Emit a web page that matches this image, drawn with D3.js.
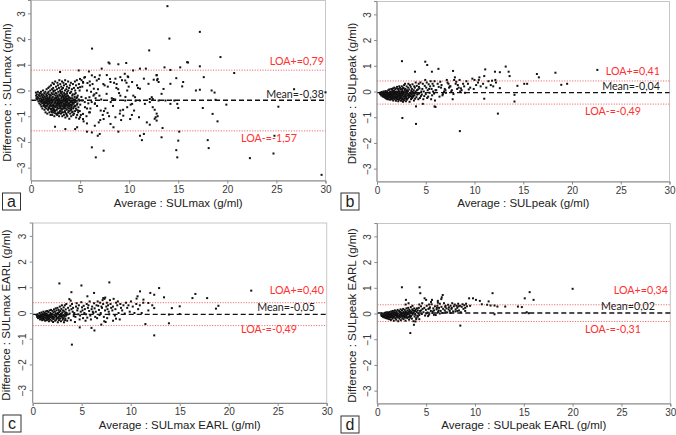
<!DOCTYPE html>
<html><head><meta charset="utf-8">
<script src="https://cdn.jsdelivr.net/npm/d3@7"></script>
<style>body{margin:0;background:#fff}svg{display:block}</style>
</head><body>
<svg id="c" width="676" height="435"></svg>
<script>
// ---------- data ----------
const xTicks = [0, 5, 10, 15, 20, 25, 30];
const yTicks = [-3, -2, -1, 0, 1, 2, 3];
const panelLetters = ["a", "b", "c", "d"];
const xTitles = ["Average : SULmax (g/ml)", "Average : SULpeak (g/ml)", "Average : SULmax EARL (g/ml)", "Average : SULpeak EARL (g/ml)"];
const yTitles = ["Difference : SULmax  (g/ml)", "Difference : SULpeak  (g/ml)", "Difference : SULmax EARL (g/ml)", "Difference : SULpeak EARL (g/ml)"];
const meanValues = [-0.38, -0.04, -0.05, 0.02];
const loaUpper = [0.79, 0.41, 0.40, 0.34];
const loaLower = [-1.57, -0.49, -0.49, -0.31];
const meanLabels = ["Mean=-0,38", "Mean=-0,04", "Mean=-0,05", "Mean=0,02"];
const upperLabels = ["LOA+=0,79", "LOA+=0,41", "LOA+=0,40", "LOA+=0,34"];
const lowerLabels = ["LOA-=-1,57", "LOA-=-0,49", "LOA-=-0,49", "LOA-=-0,31"];

const pointsA = [
[0.5,-0.08],[0.52,-0.2],[0.55,-0.3],[0.6,-0.15],[0.62,-0.35],[0.65,-0.25],[0.7,-0.05],[0.72,-0.28],[0.75,-0.42],
[0.8,-0.18],[0.82,-0.32],[0.85,-0.5],[0.87,-0.1],[0.9,-0.22],[0.92,-0.4],[0.95,-0.12],[0.97,-0.55],
[1.0,-0.3],[1.02,-0.05],[1.04,-0.45],[1.06,-0.62],[1.08,-0.2],[1.1,-0.35],[1.12,-0.15],[1.14,-0.5],[1.16,-0.7],[1.18,-0.25],
[1.2,-0.4],[1.22,0.0],[1.24,-0.28],[1.26,-0.6],[1.28,-0.48],[1.29,-0.18],[1.3,-0.33],[1.33,-0.55],[1.35,-0.1],[1.37,-0.75],[1.39,-0.42],
[1.4,-0.25],[1.42,-0.45],[1.44,-0.65],[1.46,-0.05],[1.48,-0.85],[1.49,-0.35],[1.5,-0.5],[1.52,-0.3],[1.54,-0.15],[1.56,-0.7],[1.58,-0.4],[1.59,0.05],
[1.6,-0.38],[1.62,-0.6],[1.64,-0.2],[1.66,-0.9],[1.68,-0.48],[1.69,-0.1],[1.7,-0.28],[1.72,-0.55],[1.74,-0.75],[1.76,0.1],[1.78,-0.42],[1.79,-0.05],
[1.8,-0.35],[1.82,-0.15],[1.84,-0.65],[1.85,-0.5],[1.87,-0.85],[1.88,0.15],[1.89,-0.25],[1.9,-0.45],[1.92,-0.3],[1.94,-0.7],[1.96,0.0],[1.97,-0.55],[1.99,-0.95],
[2.0,-0.4],[2.02,-0.2],[2.04,0.2],[2.05,-0.6],[2.07,-0.8],[2.08,-0.35],[2.09,-0.1],[2.1,-0.5],[2.12,-0.3],[2.13,0.05],[2.15,-0.7],[2.16,-0.95],[2.18,-0.15],[2.19,0.3],
[2.2,-0.45],[2.22,-0.25],[2.23,-0.65],[2.25,-0.85],[2.26,0.1],[2.28,-0.55],[2.29,-0.05],[2.3,-0.38],[2.32,-0.6],[2.33,0.25],[2.35,-0.15],[2.36,-0.75],[2.38,-1.0],[2.39,-0.5],
[2.4,-0.3],[2.42,-0.5],[2.43,-0.8],[2.45,0.0],[2.46,0.35],[2.48,-0.65],[2.49,-0.2],[2.5,-0.42],[2.52,-0.62],[2.53,-0.1],[2.55,0.15],[2.56,-0.9],[2.58,-0.28],
[2.6,-0.55],[2.62,-0.35],[2.63,-0.75],[2.65,0.05],[2.66,-0.95],[2.68,-0.2],[2.69,0.3],[2.7,-0.45],[2.72,-0.25],[2.73,-0.6],[2.75,0.2],[2.76,-0.85],[2.78,-0.05],[2.79,-0.4],
[2.8,-0.5],[2.82,-0.3],[2.83,-0.7],[2.85,0.1],[2.86,-1.0],[2.88,-0.15],[2.89,0.4],[2.9,-0.55],[2.92,-0.35],[2.93,-0.6],[2.95,-0.8],[2.96,0.0],[2.98,0.25],[2.99,-0.45],[3.0,-0.2],
[3.02,-0.4],[3.03,-0.65],[3.05,-0.9],[3.06,-0.1],[3.08,0.15],[3.09,-0.3],[3.1,-0.55],[3.12,-0.5],[3.13,-0.25],[3.15,-0.75],[3.16,0.35],[3.18,-0.05],[3.19,-1.0],[3.2,-0.6],
[3.22,-0.45],[3.23,-0.2],[3.25,-0.7],[3.26,0.1],[3.28,-0.85],[3.29,-0.35],[3.3,0.3],[3.32,-0.55],[3.33,-0.3],[3.35,-0.95],[3.36,0.2],[3.38,-0.1],[3.39,-0.65],[3.4,-0.4],
[3.42,-0.4],[3.43,-0.6],[3.45,-0.8],[3.46,0.0],[3.48,0.4],[3.49,-0.25],[3.5,-1.05],[3.52,-0.5],[3.53,-0.15],[3.55,-0.7],[3.56,0.25],[3.58,-0.9],[3.59,-0.35],[3.6,0.05],
[3.62,-0.3],[3.63,-0.55],[3.65,-0.75],[3.66,0.15],[3.68,-0.45],[3.69,-0.05],[3.7,-1.0],[3.72,-0.4],[3.74,-0.65],[3.76,-0.2],[3.78,0.35],[3.79,-0.85],[3.8,0.0],
[3.82,-0.5],[3.84,-0.25],[3.86,-0.8],[3.88,0.1],[3.89,-0.6],[3.9,-1.1],[3.92,-0.35],[3.94,-0.7],[3.96,0.2],[3.98,-0.1],[3.99,-0.9],[4.0,-0.45],
[4.02,-0.55],[4.04,-0.3],[4.06,0.3],[4.08,-0.75],[4.09,-0.05],[4.1,-1.0],[4.13,-0.4],[4.15,-0.6],[4.17,0.05],[4.19,-0.85],[4.2,-0.2],
[4.23,-0.5],[4.25,-0.15],[4.27,0.25],[4.29,-0.7],[4.3,-0.95],[4.33,-0.35],[4.35,-0.65],[4.37,0.1],[4.39,-0.9],[4.4,-0.45],
[4.43,-0.6],[4.45,-0.25],[4.47,0.35],[4.49,-0.8],[4.5,0.0],[4.53,-0.45],[4.55,-0.1],[4.57,-0.7],[4.59,0.2],[4.6,-1.05],
[4.63,-0.3],[4.65,-0.75],[4.67,0.4],[4.69,-0.55],[4.7,-0.95],[4.73,-0.5],[4.76,-0.2],[4.78,0.1],[4.8,-0.85],
[4.83,-0.65],[4.86,-0.35],[4.88,0.25],[4.9,-1.1],[4.93,-0.4],[4.95,0.0],[4.97,-0.8],[4.99,0.45],
[1.13,-0.42],[1.57,-0.22],[2.34,-0.35],[2.77,-0.52],[3.11,-0.38],[3.57,-0.58],[3.93,-0.28],[4.31,-0.52],[1.83,-0.38],[2.61,-0.12],[3.27,-0.62],[2.14,-0.58],
[2.94,-0.68],[3.71,-0.48],[4.11,-0.68],[1.67,-0.52],[2.47,-0.45],[3.44,-0.32],[2.03,-0.72],[3.84,-0.55],[2.86,-0.88],[3.17,-0.85],[2.57,-0.32],[3.64,-0.95],
[4.44,-0.15],[1.41,-0.58],[2.21,-0.38],[3.01,-0.05],[3.52,-0.62],[4.24,-0.82],[1.95,-0.18],[2.68,-0.68],[3.35,-0.5],[4.06,-0.4],[1.27,-0.38],[2.43,-0.88],
[3.06,-0.48],[3.76,-0.32],[4.52,-0.6],[2.11,-0.85],[2.89,-0.2],[3.48,-0.85],[4.21,-0.3],[1.73,-0.33],[2.51,-0.78],[3.23,-0.4],[3.96,-0.62],[4.67,-0.4],
[2.27,0.0],[3.14,0.05],[3.67,-0.12],[4.14,-0.55],[1.61,-0.45],[2.79,-0.35],[3.38,-0.7],[2.06,-0.48],[2.99,-0.6],[3.58,-0.4],[4.35,-0.48],[1.49,-0.62],
[2.31,-0.72],[3.19,-0.15],[3.88,-0.38],[2.64,-0.5],[3.41,-0.18],[1.91,-0.6],[2.71,-0.9],[3.53,-0.45],[4.01,-0.78],[2.17,-0.4],[2.92,-0.5],[3.81,-0.7],
[1.35,-0.48],[2.58,-0.58],[3.29,-0.25],[4.47,-0.35],[2.37,-0.62],[3.09,-0.72],[3.74,-0.58],[2.83,-0.45],[3.62,-0.22],[4.18,-0.45],[1.78,-0.68],[2.53,-0.28],
[3.47,-0.55],[2.24,-0.78],[3.02,-0.82],[3.91,-0.5],
[5.02,-0.55],[5.13,-0.25],[5.31,0.3],[5.08,-0.95],[5.47,-0.45],[5.22,0.15],[5.71,-0.7],[5.36,-1.2],[5.58,-0.3],[5.92,-0.85],[5.15,0.4],[6.12,-0.05],
[5.84,-0.5],[6.27,0.25],[5.65,-1.0],[6.45,-0.15],[6.05,-0.7],[6.58,-0.3],[5.42,0.5],[6.82,0.05],[6.18,-0.45],[6.73,-0.6],[5.98,0.35],[7.05,-1.15],
[6.36,-0.2],[7.43,-0.8],[6.91,0.45],[7.15,-0.35],[6.52,-0.5],[7.82,0.15],[7.31,-0.95],[6.66,-0.1],[8.23,-0.3],[7.58,-0.7],[8.46,0.3],[7.72,0.6],
[8.12,-0.45],[8.88,0.05],[7.95,-1.0],[9.27,0.4],[8.35,-0.6],[9.62,-0.25],[8.72,0.25],[9.05,-0.9],[8.58,-0.35],[9.85,0.55],[9.38,-0.75],[8.97,-0.1],
[10.15,-0.55],[9.73,0.3],[10.42,-0.2],[9.18,-1.15],[10.65,-0.4],[9.95,0.15],[10.28,-0.95],[9.55,0.65],[10.9,0.1],[8.05,0.45],[7.37,0.25],[6.97,-0.2],
[6.7,0.39],[7.0,0.59],[7.5,0.2],[8.1,0.33],[8.6,0.46],[9.1,0.52],[9.6,0.39],[9.9,0.52],[10.3,0.33],[10.8,0.2],[11.1,0.07],[11.5,0.46],[11.97,0.26],[12.5,0.42],[12.8,0.59],
[9.8,0],[8.7,0.1],[7.7,-0.13],[8.4,-0.33],[9.1,-0.2],[9.6,-0.39],[10.3,-0.52],[10.6,-0.26],[11.1,-0.39],[11.6,-0.52],[12.1,-0.33],[12.4,-0.65],[10.5,-0.78],[9.8,-0.65],[9.1,-0.78],
[5.7,0],[6.0,0.2],[6.4,0.07],[5.95,-0.26],[6.5,-0.52],[5.5,-0.65],[6.0,-0.85],[5.2,-0.39],[5.3,-0.91],[4.8,-0.78],[5.0,-1.04],[4.5,-0.59],[4.7,-0.26],[5.0,0.13],[5.3,0.33],[5.5,0.52],[5.75,0.29],[6.2,0.59],[6.5,0.52],
[6.2,-2.21],[6.6,-2.6],[7.4,-2.34],[6.2,-1.63],[5.7,-1.6],[6.8,-1.76],[7.0,-1.69],[4.7,-1.43],[4.5,-1.5],[8.4,-1.43],[8.9,-1.6],[2.45,-1.41],[3.5,-1.5],
[11.1,-1.76],[11.3,-1.93],[11.5,-1.69],[11.8,-1.24],[12.1,-1.33],[12.7,-1.04],[12.8,-1.17],[11.0,-1.04],[10.1,-1.11],[9.4,-0.98],[8.6,-1.04],[7.8,-0.87],[7.4,-1.11],[6.9,-1.24],[6.5,-1.37],[5.7,-1.28],[5.3,-1.11],[8.1,-1.3],[7.1,-0.78],
[4.86,0.78],[5.9,0.74],[6.22,1.63],[7.2,0.85],[7.9,1.09],[8.0,1.05],[8.9,1.02],[9.7,1.07],[10.4,0.78],[11.1,0.85],[11.7,0.85],[2.96,0.72],
[13.9,3.28],[14.1,2.02],[17.2,2.28],[12.04,1.56],[19.3,1.30],[16.0,1.09],[15.9,1.1],[17.2,0.94],[13.6,0.9],[14.2,0.8],[15.2,0.9],[20.7,0.68],[17.6,0.52],
[12.8,0.6],[12.9,0.45],[13.0,0.33],[12.85,0.4],[15.5,0.33],[15.4,0.16],[14.8,0.48],[13.5,0.06],[13.3,-0.13],[14.2,0.26],[16.8,0.0],[17.2,0.03],[18.4,0.0],[18.7,-0.08],
[12.3,-0.26],[12.4,-0.33],[13.0,-0.39],[13.7,-0.39],[14.2,-0.52],[14.6,-0.39],[14.9,-0.52],[15.0,-0.68],[12.1,-0.45],[12.6,-0.75],[12.9,-1.0],[12.6,-1.1],[12.8,-0.9],
[18.8,-0.36],[19.9,-0.55],[25.2,-0.63],[30.0,-0.07],[26.8,0.05],[17.5,-0.68],[18.5,-0.91],[19.0,-1.2],[13.4,-1.46],[15.1,-1.6],[13.3,-1.82],[15.0,-1.95],[18.0,-1.93],[18.1,-2.24],
[14.8,-2.32],[14.9,-2.6],[22.3,-2.63],[24.7,-2.45],[24.8,-1.76],[29.6,-3.28]
];

const pointsB = [
[0.3,-0.05],[0.33,-0.1],[0.4,-0.08],[0.43,-0.15],[0.46,-0.02],[0.5,-0.12],[0.53,-0.05],[0.56,-0.18],[0.6,-0.1],[0.63,-0.2],[0.66,0.0],[0.7,-0.15],[0.72,-0.05],[0.75,-0.22],[0.77,-0.1],
[0.8,-0.08],[0.82,-0.18],[0.85,-0.25],[0.87,0.02],[0.9,-0.12],[0.92,-0.2],[0.95,-0.04],[0.97,-0.28],[1.0,-0.1],[1.02,-0.22],[1.04,0.0],[1.06,-0.15],[1.08,-0.3],
[1.1,-0.05],[1.12,-0.18],[1.14,-0.25],[1.16,0.05],[1.18,-0.12],[1.2,-0.14],[1.22,-0.3],[1.24,-0.08],[1.26,0.08],[1.28,-0.2],[1.3,-0.1],[1.32,-0.22],[1.34,0.0],[1.36,-0.32],[1.38,-0.16],
[1.4,-0.06],[1.42,-0.18],[1.44,-0.26],[1.46,0.1],[1.48,-0.12],[1.5,-0.14],[1.52,-0.3],[1.54,-0.02],[1.56,0.06],[1.58,-0.22],[1.6,-0.1],[1.62,-0.2],[1.64,0.12],[1.66,-0.35],[1.68,-0.04],
[1.7,-0.16],[1.72,-0.26],[1.74,0.02],[1.76,-0.08],[1.78,0.15],[1.8,-0.12],[1.82,-0.3],[1.84,-0.2],[1.86,0.08],[1.88,-0.02],[1.9,-0.06],[1.92,-0.18],[1.94,-0.36],[1.96,0.12],[1.98,-0.24],
[2.0,-0.1],[2.02,-0.22],[2.04,0.0],[2.06,0.18],[2.08,-0.3],[2.09,-0.15],[2.1,-0.14],[2.12,-0.04],[2.14,-0.26],[2.16,0.1],[2.18,-0.38],[2.2,-0.08],[2.22,-0.2],[2.24,0.05],[2.26,-0.32],[2.28,0.2],
[2.3,-0.16],[2.32,-0.02],[2.34,-0.28],[2.36,0.14],[2.38,-0.1],[2.4,-0.12],[2.42,-0.24],[2.44,0.08],[2.46,-0.36],[2.48,0.0],[2.5,-0.06],[2.52,-0.18],[2.54,0.2],[2.56,-0.3],[2.58,0.1],
[2.6,-0.14],[2.62,0.02],[2.64,-0.26],[2.66,-0.4],[2.68,0.15],[2.7,-0.1],[2.72,-0.2],[2.74,0.12],[2.76,-0.34],[2.78,0.25],[2.8,-0.04],[2.82,-0.16],[2.84,-0.28],[2.86,0.06],[2.88,0.3],
[2.9,-0.12],[2.92,0.1],[2.94,-0.22],[2.96,-0.38],[2.98,0.0],[3.0,-0.08],[3.02,-0.2],[3.04,0.2],[3.06,-0.32],[3.08,0.05],[3.1,-0.15],[3.13,0.0],[3.16,-0.27],[3.19,0.15],[3.22,0.3],
[3.25,-0.1],[3.28,-0.22],[3.31,0.08],[3.34,-0.4],[3.37,0.25],[3.4,-0.05],[3.43,-0.18],[3.46,0.18],[3.49,-0.3],[3.52,0.02],[3.55,-0.12],[3.58,0.1],[3.61,-0.25],[3.64,0.28],[3.67,-0.02],
[3.7,-0.08],[3.73,-0.2],[3.76,0.05],[3.79,-0.35],[3.82,0.2],[3.85,-0.14],[3.88,0.15],[3.91,-0.28],[3.94,0.0],[3.97,0.35],[4.0,-0.04],[4.04,-0.22],[4.08,0.22],[4.12,-0.12],[4.16,-0.1],
[4.2,0.08],[4.24,-0.3],[4.28,0.3],[4.32,-0.08],[4.36,0.12],[4.4,-0.25],[4.45,0.35],[4.5,-0.18],[4.55,0.0],[4.6,-0.12],[4.65,0.1],[4.7,0.3],[4.75,-0.3],[4.8,0.0],[4.85,-0.18],[4.9,0.22],
[4.95,0.45],[5.0,-0.1],[5.05,0.15],[5.1,0.35],[5.15,-0.25],[5.2,0.05],[5.25,-0.2],[5.3,0.28],[5.35,0.1],[5.4,-0.05],[5.45,0.2],[5.5,0.4],[5.55,-0.3],[5.6,0.1],[5.65,-0.15],[5.7,0.3],
[5.75,0.0],[5.8,0.22],[5.85,-0.08],[5.9,0.4],[5.95,-0.35],[6.0,0.05],
[0.68,-0.12],[0.94,-0.16],[1.19,-0.2],[1.43,-0.1],[1.67,-0.14],[1.91,-0.1],[2.13,-0.18],[2.37,-0.22],[2.61,-0.08],[2.87,-0.2],[3.11,-0.06],[3.36,-0.14],
[0.81,-0.04],[1.07,-0.26],[1.31,-0.06],[1.55,-0.24],[1.79,-0.04],[2.03,-0.28],[2.27,-0.1],[2.51,-0.26],[2.75,-0.02],[2.99,-0.28],[3.23,-0.16],[3.47,-0.08],
[3.71,-0.16],[0.55,-0.1],[1.13,-0.08],[1.61,-0.28],[2.19,-0.02],[2.69,-0.32],[3.17,0.02],[3.59,-0.2],[3.89,-0.06],[1.37,-0.2],[1.85,-0.24],[2.45,-0.16],
[2.93,-0.12],[3.53,-0.26],[4.1,0.05],[4.3,0.18],
[6.08,0.05],[6.22,0.3],[6.41,-0.2],[6.57,0.15],[6.33,0.18],[6.76,-0.1],[6.49,0.38],[6.88,0.0],[6.62,0.25],[7.02,0.05],[6.71,-0.15],[7.16,0.45],
[6.95,0.1],[7.33,0.3],[7.08,-0.05],[7.47,0.2],[7.23,0.35],[7.61,0.0],[7.39,0.15],[7.76,-0.3],[7.53,0.2],[7.91,0.45],[7.68,0.05],[8.07,0.3],
[7.84,-0.1],[8.22,0.1],[7.99,0.55],[8.38,0.15],[8.13,0.38],[8.53,0.0],[8.29,0.25],[8.68,0.05],[8.47,0.45],[8.83,0.3],[8.61,0.12],[9.02,-0.05],
[8.94,0.2],[9.17,0.4],[9.41,0.08],[9.33,0.3],[9.56,0.15],[9.78,0.5],[9.92,0.1],[10.17,0.25],[10.36,0.35],[10.63,0.2],[10.44,0.45],[10.88,0.3],
[11.21,0.15],[11.43,0.4],[11.67,0.25],[11.92,0.2],[12.14,0.45],
[2.56,1.18],[4.95,1.16],[5.15,1.03],[5.63,0.77],[6.3,0.88],[3.9,0.77],[7.8,0.8],[11.1,0.86],[13.2,0.97],[13.5,0.77],[12.6,0.75],[12.1,0.77],[16.4,0.68],[16.6,0.55],[18.3,0.73],
[22.6,0.84],[13.6,0.6],[14.4,0.22],[15.1,0.3],[15.4,0.3],[18.9,0.26],[19.5,0.3],[12.6,0.13],[11.0,-0.28],[14.1,-0.13],[14.1,-0.39],[12.4,-0.86],[8.5,-1.54],[4.0,-1.26],[2.6,-1.03],
[4.0,-0.58],[5.9,-0.58],[4.7,-0.48],[6.0,-0.6],[10.5,0.55],[11.0,0.6],[11.8,0.42],[12.2,0.35],[10.0,0.45]
];

const pointsC = [
[0.4,-0.08],[0.45,-0.15],[0.5,-0.05],[0.55,-0.2],[0.6,-0.1],[0.65,-0.18],[0.7,0.0],[0.72,-0.12],[0.75,-0.25],[0.8,-0.06],[0.83,-0.16],[0.86,-0.22],[0.9,0.02],[0.93,-0.1],[0.96,-0.28],
[1.0,-0.14],[1.03,-0.04],[1.06,-0.2],[1.09,0.05],[1.12,-0.12],[1.15,-0.26],[1.18,-0.08],[1.21,0.0],[1.24,-0.18],[1.27,-0.3],[1.3,-0.1],[1.33,0.06],[1.36,-0.22],[1.39,-0.14],[1.42,-0.02],
[1.45,-0.28],[1.48,0.08],[1.51,-0.16],[1.54,-0.06],[1.57,-0.24],[1.6,0.04],[1.63,-0.12],[1.66,-0.32],[1.69,-0.2],[1.72,0.1],[1.75,-0.08],[1.78,-0.26],[1.81,0.0],[1.84,-0.16],[1.87,0.12],
[1.9,-0.1],[1.93,-0.3],[1.96,-0.04],[1.99,-0.2],[2.02,0.08],[2.05,-0.14],[2.08,-0.35],[2.11,0.02],[2.14,-0.24],[2.17,0.14],[2.2,-0.08],[2.23,-0.18],[2.26,0.06],[2.29,-0.3],[2.32,-0.02],
[2.35,0.18],[2.38,-0.12],[2.41,-0.26],[2.44,0.1],[2.47,-0.06],[2.5,-0.2],[2.53,0.2],[2.56,-0.36],[2.59,0.0],[2.62,-0.14],[2.65,0.12],[2.68,-0.28],[2.71,0.04],[2.74,-0.1],[2.77,0.25],
[2.8,-0.22],[2.83,0.08],[2.86,-0.04],[2.89,-0.32],[2.92,0.16],[2.95,-0.12],[2.98,0.3],[3.01,-0.18],[3.04,0.02],[3.07,-0.26],[3.1,0.1],[3.13,-0.08],[3.16,0.22],[3.19,-0.36],[3.22,0.06],
[3.25,-0.14],[3.28,0.3],[3.31,-0.02],[3.34,-0.22],[3.37,0.14],[3.4,-0.1],[3.43,0.35],[3.46,0.0],
[0.62,-0.14],[0.88,-0.12],[1.11,-0.18],[1.37,-0.08],[1.62,-0.2],[1.86,-0.06],[2.12,-0.16],[2.37,-0.02],[2.63,-0.2],[2.88,-0.08],[3.14,-0.2],[3.38,0.02],
[0.77,-0.1],[1.01,-0.22],[1.26,-0.04],[1.52,-0.1],[1.77,-0.14],[2.03,-0.22],[2.28,-0.1],[2.54,-0.04],[2.79,-0.14],[3.05,-0.1],[3.3,-0.28],[1.46,-0.18],
[1.95,-0.12],[2.45,-0.2],[2.96,-0.02],[3.21,-0.1],
[3.52,-0.3],[3.61,0.2],[3.55,-0.06],[3.73,0.1],[3.66,-0.2],[3.84,0.28],[3.77,-0.02],[3.96,0.15],[3.89,-0.28],[4.08,0.05],[4.01,0.35],[4.19,-0.12],
[4.12,0.2],[4.31,-0.35],[4.24,0.0],[4.42,0.25],[4.36,-0.15],[4.55,0.1],[4.48,0.38],[4.66,-0.05],[4.6,0.18],[4.79,-0.25],[4.71,0.3],[4.9,0.05],
[4.84,-0.1],[5.03,0.22],[4.96,0.42],[5.14,-0.2],[5.08,0.1],[5.27,0.0],[5.2,0.28],[5.39,-0.3],[5.32,0.15],[5.51,0.35],[5.45,-0.05],[5.63,0.2],
[5.57,-0.18],[5.76,0.08],[5.69,0.3],[5.88,-0.1],[5.81,0.45],[6.01,0.15],[5.94,-0.25],[6.13,0.05],[6.07,0.25],[6.26,0.38],[6.19,0.0],[6.38,-0.15],
[6.32,0.18],[6.51,0.3],[6.44,0.05],[6.63,0.45],[6.57,-0.2],[6.76,0.12],[6.69,0.28],[6.88,0.4],[6.82,-0.08],[7.01,0.25],[6.94,0.0],[7.13,0.5],
[7.07,0.2],[7.26,-0.15],[7.19,0.35],[7.38,0.1],[7.32,0.55],[7.51,0.25],[7.44,-0.35],[7.63,0.15],[7.57,0.4],[7.76,0.05],[7.69,0.3],[7.88,0.5],
[7.81,-0.05],[8.01,0.2],[7.94,0.35],[8.13,0.1],[8.26,0.55],[8.19,0.25],[8.38,-0.1],[8.51,0.4],[8.44,0.15],[8.63,0.3],[8.76,0.0],[8.69,0.45],
[8.88,-0.25],[9.01,0.2],[8.94,0.35],[9.13,0.1],[9.26,0.3],[9.39,-0.02],[9.52,0.4],[9.64,0.2],[9.77,0.3],[9.9,0.05],[10.03,0.45],[10.21,0.25],
[10.38,0.0],[10.57,0.35],[10.76,0.15],[10.93,0.3],[11.12,0.0],[11.28,0.4],
[2.72,1.15],[4.97,1.07],[7.82,1.19],[3.95,0.81],[6.26,0.78],[5.58,0.65],[3.74,0.54],[3.88,0.48],[12.9,0.97],[10.95,0.84],[12.0,0.78],[12.4,0.71],[13.4,0.61],[10.7,0.65],[10.6,0.56],
[11.3,0.52],[11.8,0.39],[12.4,0.19],[16.3,0.58],[16.6,0.74],[17.8,0.58],[18.7,0.17],[18.95,0.28],[22.3,0.87],[14.2,0.19],[15.0,0.26],[15.0,-0.04],[13.9,-0.06],[13.9,-0.4],[11.5,-0.43],
[12.4,-0.87],[4.0,-1.23],[4.8,-0.56],[6.0,-0.58],[6.3,-0.68],[7.0,-0.45],[7.3,-0.32],[7.6,-0.2],[8.2,-0.3],[8.5,-0.22],[7.4,0.6],[7.2,0.58],[11.8,0.1],[12.2,0.3]
];

const pointsD = [
[0.4,-0.05],[0.45,-0.1],[0.5,0.0],[0.55,-0.08],[0.6,-0.14],[0.65,-0.03],[0.7,-0.1],[0.73,0.02],[0.76,-0.16],[0.8,-0.06],[0.83,-0.12],[0.86,0.04],[0.9,-0.18],[0.93,-0.08],[0.96,-0.02],
[1.0,-0.12],[1.03,0.05],[1.06,-0.2],[1.09,-0.06],[1.12,-0.14],[1.15,0.02],[1.18,-0.1],[1.21,-0.22],[1.24,0.06],[1.27,-0.04],[1.3,-0.16],[1.33,0.0],[1.36,-0.1],[1.39,-0.25],[1.42,0.08],
[1.45,-0.06],[1.48,-0.14],[1.51,0.03],[1.54,-0.2],[1.57,-0.08],[1.6,0.1],[1.63,-0.02],[1.66,-0.16],[1.69,-0.28],[1.72,0.05],[1.75,-0.1],[1.78,-0.04],[1.81,0.12],[1.84,-0.18],[1.87,-0.06],
[1.9,0.02],[1.93,-0.24],[1.96,-0.12],[1.99,0.08],[2.02,-0.02],[2.05,-0.16],[2.08,0.14],[2.11,-0.08],[2.14,-0.3],[2.17,0.0],[2.2,-0.12],[2.23,0.1],[2.26,-0.2],[2.29,-0.04],[2.32,0.06],
[2.35,-0.14],[2.38,0.16],[2.41,-0.26],[2.44,-0.06],[2.47,0.04],[2.5,-0.1],[2.53,0.12],[2.56,-0.18],[2.59,0.0],[2.62,-0.08],[2.65,0.18],[2.68,-0.22],[2.71,0.06],[2.74,-0.12],[2.77,-0.02],
[2.8,0.14],[2.83,-0.16],[2.86,0.02],[2.89,-0.28],[2.92,0.08],[2.95,-0.06],[2.98,0.2],[3.01,-0.1],[3.04,0.04],[3.07,-0.18],[3.1,0.12],[3.13,-0.02],[3.16,0.22],[3.19,-0.14],[3.22,0.06],
[3.25,-0.24],[3.28,0.15],[3.31,-0.06],[3.34,0.1],[3.37,-0.16],[3.4,0.02],[3.43,0.25],[3.46,-0.1],[3.5,0.08],[3.54,-0.2],[3.58,0.16],[3.62,-0.04],[3.66,0.12],[3.7,-0.3],[3.74,0.05],
[3.78,0.2],[3.82,-0.12],[3.86,0.1],[3.9,-0.05],[3.94,0.15],[3.98,-0.22],[4.02,0.06],[4.06,0.2],[4.1,-0.1],[4.15,0.12],[4.2,0.0],[4.25,0.22],[4.3,-0.06],
[0.63,-0.08],[0.91,-0.04],[1.17,-0.06],[1.44,-0.02],[1.71,-0.12],[1.97,-0.06],[2.24,-0.1],[2.51,-0.02],[2.78,-0.06],[3.05,-0.02],[3.32,-0.1],[3.6,0.0],
[0.78,-0.1],[1.05,-0.14],[1.31,-0.08],[1.58,-0.12],[1.85,0.04],[2.12,-0.12],[2.39,0.0],[2.66,-0.12],[2.93,-0.14],[3.2,0.0],[3.47,0.04],[3.88,-0.02],
[4.38,0.1],[4.47,0.28],[4.56,-0.02],[4.64,0.18],[4.73,0.05],[4.81,0.22],[4.89,-0.08],[4.97,0.14],[5.06,0.3],[5.14,0.04],[5.23,0.18],[5.31,-0.04],
[5.39,0.24],[5.48,0.1],[5.56,0.36],[5.64,0.02],[5.73,0.2],[5.81,0.12],[5.9,0.28],[5.98,-0.06],[6.07,0.16],[6.15,0.3],[6.23,0.06],[6.32,0.22],
[6.4,0.38],[6.49,0.1],[6.57,0.26],[6.66,0.02],[6.74,0.18],[6.83,0.4],[6.91,0.12],[6.99,0.3],[7.08,0.2],[7.16,0.04],[7.25,0.34],[7.33,0.24],
[7.42,0.1],[7.5,0.3],[7.59,0.18],[7.67,0.4],[7.76,0.08],[7.84,0.28],[7.93,0.35],[8.02,0.16],[8.11,0.3],[8.19,0.22],[8.28,0.38],[8.37,0.12],
[8.46,0.3],[8.55,0.05],[8.64,0.26],[8.73,0.36],[8.82,0.18],[8.91,0.32],[9.0,0.22],[9.09,0.38],[9.18,0.28],
[5.02,0.0],[5.67,0.08],[6.28,0.12],[6.95,0.26],[7.62,0.22],[8.3,0.28],[4.5,0.12],[5.35,0.2],[6.1,0.22],[7.3,0.16],
[5.2,-0.1],[5.8,-0.05],[6.4,0.0],[7.0,0.05],[4.6,0.4],[5.3,0.35],[5.5,0.45],[6.2,0.42],[7.5,0.02],[8.0,0.08],[4.3,0.35],[3.2,0.4],[2.9,0.35],[3.6,0.3],
[2.52,1.02],[4.33,1.02],[4.4,0.79],[2.93,0.53],[4.84,0.59],[5.0,0.53],[6.7,0.72],[6.6,0.63],[6.55,0.56],[6.2,0.49],[5.6,0.53],[9.4,0.59],[9.8,0.59],[10.1,0.53],[10.5,0.49],[10.7,0.36],
[11.25,0.34],[11.4,0.47],[11.6,0.31],[11.8,0.79],[12.0,0.31],[12.3,0.27],[13.1,0.27],[14.4,0.27],[14.8,0.25],[15.1,0.59],[15.6,0.83],[16.0,0.53],[15.3,0.05],[15.5,0.01],[12.0,-0.03],
[20.0,0.96],[8.5,-0.47],[3.38,-0.76],[3.75,-0.44],[3.9,-0.31],[4.0,-0.18],[4.16,-0.12],[4.3,-0.22],[9.5,0.3],[9.0,0.1],[8.2,0.1]
];

const panelPoints = [pointsA, pointsB, pointsC, pointsD];

// ---------- layout ----------
const layout = [
  {l:31,    r:325.5, t:0.5,   b:180.5, yTitleX:11,  xTitleY:206.5, box:[2.5,193,18,17],
   up:[324,61.7], mean:[324,94],  down:[297,138]},
  {l:377,   r:669.5, t:1.5,   b:181.5, yTitleX:356, xTitleY:206.5, box:[341,193,18,17],
   up:[660,71.3], mean:[660,86],  down:[641,111]},
  {l:32.7,  r:326.7, t:223,   b:403,   yTitleX:10,  xTitleY:428.5, box:[3,415,18,17],
   up:[324,290],  mean:[315,307], down:[297,329.7]},
  {l:377.3, r:670.3, t:223.5, b:403.5, yTitleX:356, xTitleY:428.5, box:[341,416,18,17],
   up:[668,290],  mean:[655,306.7], down:[641,329.7]}
];

const svg = d3.select("#c");
const axisColor = "#8a8a8a";
const tickTextColor = "#3a3a3a";
const labelFont = "Lato, 'Open Sans', sans-serif";
const axisFont = "'Liberation Sans', Arial, sans-serif";

layout.forEach((L, i) => {
  const g = svg.append("g");
  const x = d3.scaleLinear().domain([0, 30]).range([L.l, L.r]);
  const y = d3.scaleLinear().domain([-3.5, 3.5]).range([L.b, L.t]);

  g.append("rect").attr("x", L.l).attr("y", L.t).attr("width", L.r - L.l).attr("height", L.b - L.t)
    .attr("fill", "none").attr("stroke", "#c6c6c6").attr("stroke-width", 1);

  [loaUpper[i], loaLower[i]].forEach(v => {
    g.append("line").attr("x1", L.l).attr("x2", L.r).attr("y1", y(v)).attr("y2", y(v))
      .attr("stroke", "#f26d6d").attr("stroke-dasharray", "1.2,1.4").attr("stroke-width", 1);
  });
  g.append("line").attr("x1", L.l).attr("x2", L.r).attr("y1", y(meanValues[i])).attr("y2", y(meanValues[i]))
    .attr("stroke", "#111").attr("stroke-dasharray", "5,3").attr("stroke-width", 1.3);

  g.append("g").selectAll("rect").data(panelPoints[i]).join("rect")
    .attr("x", d => x(d[0]) - 1).attr("y", d => y(d[1]) - 1)
    .attr("width", 2).attr("height", 2).attr("fill", "#111");

  const xa = g.append("g").attr("transform", `translate(0,${L.b})`)
    .call(d3.axisBottom(x).tickValues(xTicks).tickFormat(d3.format("d")).tickSize(3).tickPadding(2));
  const ya = g.append("g").attr("transform", `translate(${L.l},0)`)
    .call(d3.axisLeft(y).tickValues(yTicks).tickFormat(d3.format("d")).tickSize(3).tickPadding(2));
  [xa, ya].forEach(a => {
    a.select(".domain").attr("stroke", axisColor);
    a.selectAll(".tick line").attr("stroke", axisColor);
    a.selectAll("text").attr("fill", tickTextColor).style("font-family", axisFont).style("font-size", "10px");
  });
  ya.select(".domain").attr("d", `M-3,${L.t}H0V${L.b}`);
  ya.selectAll("text").attr("x", 0).attr("dy", 0).attr("text-anchor", "middle")
    .attr("transform", "translate(-6.5,0) rotate(-90)");

  g.append("text").attr("x", (L.l + L.r) / 2).attr("y", L.xTitleY).attr("text-anchor", "middle")
    .style("font-family", axisFont).style("font-size", "11.5px").attr("fill", "#222").text(xTitles[i]);
  g.append("text").attr("transform", `translate(${L.yTitleX},${(L.t + L.b) / 2 + 2}) rotate(-90)`)
    .attr("text-anchor", "middle").style("font-family", axisFont).style("font-size", "11.5px")
    .attr("fill", "#222").text(yTitles[i]);

  const lab = (pos, txt, col) => g.append("text").attr("x", pos[0]).attr("y", pos[1]).attr("dy", "0.35em")
    .attr("text-anchor", "end").style("font-family", labelFont).style("font-size", "10.7px")
    .attr("fill", col).text(txt);
  lab(L.up, upperLabels[i], "#ff3030");
  lab(L.mean, meanLabels[i], "#222");
  lab(L.down, lowerLabels[i], "#ff3030");

  g.append("rect").attr("x", L.box[0]).attr("y", L.box[1]).attr("width", L.box[2]).attr("height", L.box[3])
    .attr("fill", "#fff").attr("stroke", "#333").attr("stroke-width", 1);
  g.append("text").attr("x", L.box[0] + L.box[2] / 2).attr("y", L.box[1] + L.box[3] / 2).attr("dy", "0.35em")
    .attr("text-anchor", "middle").style("font-family", axisFont).style("font-size", "16px")
    .attr("fill", "#222").text(panelLetters[i]);
});
</script>
</body></html>
